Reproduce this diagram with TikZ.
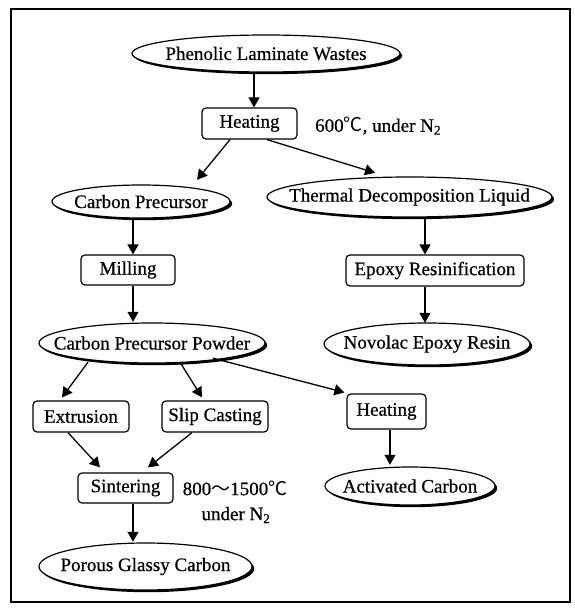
\documentclass[tikz,border=0pt]{standalone}
\usepackage{fontspec}
\setmainfont{Liberation Serif}[FakeBold=0.6]
\newfontfamily\cjk{Noto Sans CJK SC}
\usetikzlibrary{arrows.meta,calc}
\newcommand\ellnode[5]{%
  \fill[black] ($(#2)+(2.2,2.2)$) ellipse [x radius={#3pt/2}, y radius={#4pt/2}];
  \filldraw[fill=white, line width=1.2pt] (#2) ellipse [x radius={#3pt/2}, y radius={#4pt/2}];
  \node[minimum width=#3pt, minimum height=#4pt] (#1) at (#2) {#5};}
\begin{document}
\begin{tikzpicture}[x=1pt,y=-1pt,
  every node/.style={font=\fontsize{19}{22}\selectfont, inner sep=0pt},
  procbox/.style={rectangle, rounded corners=4pt, draw, line width=1.2pt},
  arr/.style={line width=1.3pt, -{Triangle[length=10pt,width=11pt]}},
  lbl/.style={anchor=west}]
\fill[white] (0,0) rectangle (575,608);
\useasboundingbox (0,0) rectangle (575,608);
\draw[line width=1.6pt] (11,9) rectangle (570,602);

\ellnode{plw}{266,53.5}{268}{37}{Phenolic Laminate Wastes}
\node[procbox, minimum width=95pt, minimum height=31pt] (h1) at (249.5,123.5) {Heating};
\node[lbl] (t1) at (315,126) {600{\cjk ℃}, under N\textsubscript{2}};
\ellnode{cp}{141,201.5}{178}{33}{Carbon Precursor}
\ellnode{tdl}{409.5,197}{285}{40}{Thermal Decomposition Liquid}
\node[procbox, minimum width=94pt, minimum height=30pt] (mil) at (128,270) {Milling};
\node[procbox, minimum width=178pt, minimum height=31pt] (epo) at (435,270.5) {Epoxy Resinification};
\ellnode{cpp}{152,343}{226}{40}{Carbon Precursor Powder}
\ellnode{ner}{427,344}{206}{42}{Novolac Epoxy Resin}
\node[procbox, minimum width=96pt, minimum height=31pt] (ext) at (81,416.5) {Extrusion};
\node[procbox, minimum width=106pt, minimum height=31pt] (slip) at (215,416.5) {Slip Casting};
\node[procbox, minimum width=79pt, minimum height=35pt] (h2) at (386.5,411.5) {Heating};
\node[procbox, minimum width=95pt, minimum height=30pt] (sin) at (125.5,488) {Sintering};
\node (t2) at (235,488) {800{\cjk ～}1500{\cjk ℃}};
\node (t3) at (236,515) {under N\textsubscript{2}};
\ellnode{ac}{410,486}{170}{38}{Activated Carbon}
\ellnode{pgc}{145.5,566.5}{213}{47}{Porous Glassy Carbon}

\draw[arr] ($(plw.south)+(-12,0)$) -- ($(h1.north)+(4.5,0)$);
\draw[arr] ($(h1.south)+(-19.5,0)$) -- ($(cp.north)+(56,-5)$);
\draw[arr] ($(h1.south)+(17.5,0)$) -- ($(tdl.north)+(-34.5,-4)$);
\draw[arr] ($(cp.south)+(-8,0)$) -- ($(mil.north)+(5,0)$);
\draw[arr] ($(mil.south)+(5,0)$) -- ($(cpp.north)+(-19,-1)$);
\draw[arr] ($(tdl.south)+(15.5,0)$) -- ($(epo.north)+(-10,0)$);
\draw[arr] ($(epo.south)+(-10,0)$) -- ($(ner.north)+(-2,0)$);
\draw[arr] ($(cpp.south)+(-64,-1)$) -- ($(ext.north)+(-19,-3)$);
\draw[arr] ($(cpp.south)+(28,-1)$) -- ($(slip.north)+(-13,-3)$);
\draw[arr] ($(cpp.south)+(61,-5)$) -- ($(h2.north west)+(-2,-1)$);
\draw[arr] ($(ext.south)+(-13,0)$) -- ($(sin.north)+(-25.5,-5)$);
\draw[arr] ($(slip.south)+(-23,0)$) -- ($(sin.north)+(22.5,-5)$);
\draw[arr] ($(sin.south)+(7.5,0)$) -- ($(pgc.north)+(-12.5,-1)$);
\draw[arr] ($(h2.south)+(3.5,0)$) -- ($(ac.north)+(-20,-2)$);
\end{tikzpicture}
\end{document}
